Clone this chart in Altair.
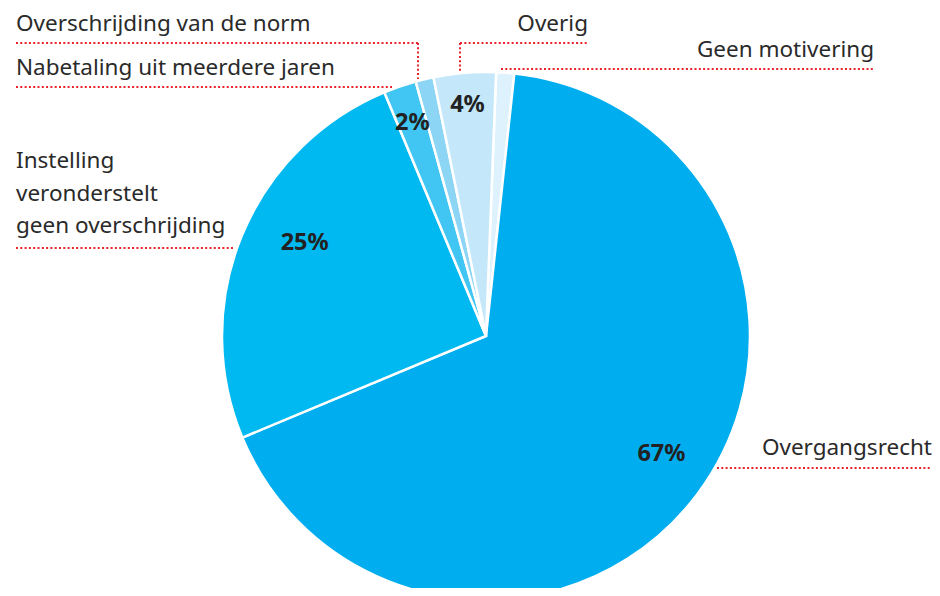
import math
import altair as alt
import pandas as pd

# Slices, clockwise from the top
categories = ["Geen motivering", "Overgangsrecht",
              "Instelling veronderstelt geen overschrijding",
              "Nabetaling uit meerdere jaren", "Overschrijding van de norm", "Overig"]
values = [1.1, 67.0, 25.0, 2.0, 1.1, 3.8]
pct_labels = ["", "67%", "25%", "2%", "", "4%"]
colors = ["#DDF2FC", "#00AEEF", "#00B9F1", "#41C5F2", "#8CD5F5", "#C4E8F9"]

# Annotation texts (outside labels)
left_texts = ["Overschrijding van de norm", "Nabetaling uit meerdere jaren",
              "Instelling", "veronderstelt", "geen overschrijding"]
left_x = [8, 8, 8, 8, 8]
left_y = [23, 67, 160, 193, 225]
right_texts = ["Overig", "Geen motivering", "Overgangsrecht"]
right_x = [580, 866, 924]
right_y = [23, 49, 447]

# Red dotted leader segments (x, y, x2, y2)
seg_x = [8, 410, 8, 452, 452, 493, 8, 709]
seg_y = [35, 35, 79, 35, 35, 61, 240, 460]
seg_x2 = [410, 410, 384, 580, 452, 865, 225, 924]
seg_y2 = [35, 71, 79, 35, 64, 61, 240, 460]

CX, CY, R = 478, 328, 264
start = math.radians(2.2)

pie_df = pd.DataFrame({
    "category": categories,
    "value": values,
    "label": pct_labels,
    "order": list(range(len(categories))),
})

theta = alt.Theta("value:Q", stack=True,
                  scale=alt.Scale(range=[start, start + 2 * math.pi]))
order = alt.Order("order:Q")

arcs = alt.Chart(pie_df).mark_arc(stroke="white", strokeWidth=2.5, outerRadius=R).encode(
    theta=theta,
    order=order,
    color=alt.Color("category:N", scale=alt.Scale(domain=categories, range=colors), legend=None),
    x=alt.value(CX), y=alt.value(CY),
)

pct_font = dict(font="Noto Sans", fontWeight="bold", fontSize=23.5, color="#222222",
                align="center", baseline="middle")


def pct_layer(lbl, radius, dx, dy):
    return alt.Chart(pie_df).transform_calculate(
        t=f"datum.label == '{lbl}' ? datum.label : ''"
    ).mark_text(radius=radius, dx=dx, dy=dy, **pct_font).encode(
        theta=theta, order=order, text="t:N",
        x=alt.value(CX), y=alt.value(CY),
    )


pct_layers = [
    pct_layer("67%", 209, 8, -7),
    pct_layer("25%", 209, 12, -13),
    pct_layer("2%", 229, 1, 3),
    pct_layer("4%", 229, 0, -3),
]

seg_df = pd.DataFrame({"x": seg_x, "y": seg_y, "x2": seg_x2, "y2": seg_y2})
leaders = alt.Chart(seg_df).mark_rule(color="#E8232B", strokeWidth=2,
                                      strokeDash=[2, 2.3]).encode(
    x=alt.X("x:Q", scale=None, axis=None),
    y=alt.Y("y:Q", scale=None, axis=None),
    x2="x2:Q", y2="y2:Q",
)

txt_style = dict(font="Noto Sans", fontSize=22.5, color="#2a2a2a", baseline="alphabetic")
left_df = pd.DataFrame({"t": left_texts, "x": left_x, "y": left_y})
right_df = pd.DataFrame({"t": right_texts, "x": right_x, "y": right_y})
left_lbl = alt.Chart(left_df).mark_text(align="left", **txt_style).encode(
    x=alt.X("x:Q", scale=None, axis=None), y=alt.Y("y:Q", scale=None, axis=None), text="t:N")
right_lbl = alt.Chart(right_df).mark_text(align="right", **txt_style).encode(
    x=alt.X("x:Q", scale=None, axis=None), y=alt.Y("y:Q", scale=None, axis=None), text="t:N")

chart = alt.layer(arcs, *pct_layers, leaders, left_lbl, right_lbl).properties(
    width=924, height=580, autosize=alt.AutoSizeParams(type="none"), padding=0,
).configure_view(stroke=None)

chart.save("out.html", embed_options={"renderer": "svg", "actions": False})
